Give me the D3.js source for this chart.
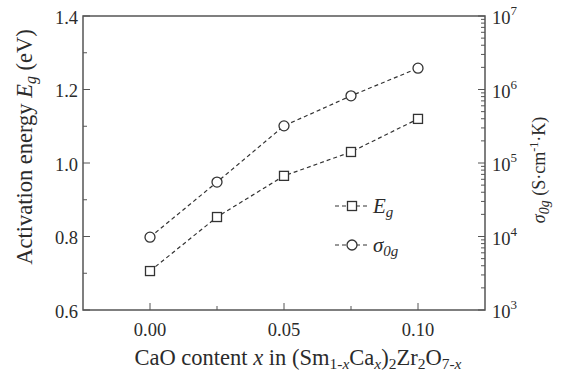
<!DOCTYPE html>
<html>
<head>
<meta charset="utf-8">
<script src="https://cdn.jsdelivr.net/npm/d3@7"></script>
<style>
  html, body { margin: 0; padding: 0; background: #fff; }
  svg { display: block; }
</style>
</head>
<body>
<svg id="chart" width="561" height="373" font-family="'Liberation Serif', 'DejaVu Serif', serif"></svg>
<script>
// CaO content x
const contents = [0.0, 0.025, 0.05, 0.075, 0.10];
// Activation energy E_g (eV), left axis
const activationEnergy = [0.706, 0.853, 0.965, 1.030, 1.120];
// Pre-exponential factor sigma_0g (S·cm^-1·K), right log axis
const sigma0g = [9.8e3, 5.5e4, 3.2e5, 8.2e5, 1.95e6];
const xTicks = [0.0, 0.05, 0.10];
const xMinorTicks = [0.025, 0.075];
const leftTicks = [0.6, 0.8, 1.0, 1.2, 1.4];
const leftMinorTicks = [0.7, 0.9, 1.1, 1.3];
const rightExponents = [3, 4, 5, 6, 7];

const svg = d3.select("#chart");
const m = { left: 83, right: 485, top: 16, bottom: 310 };
const axisColor = "#555";
const markColor = "#333";
const textColor = "#2b2b2b";

const x = d3.scaleLinear().domain([-0.025, 0.125]).range([m.left, m.right]);
const yL = d3.scaleLinear().domain([0.6, 1.4]).range([m.bottom, m.top]);
const yR = d3.scaleLog().domain([1e3, 1e7]).range([m.bottom, m.top]);

// frame
svg.append("rect")
  .attr("x", m.left).attr("y", m.top)
  .attr("width", m.right - m.left).attr("height", m.bottom - m.top)
  .attr("fill", "none").attr("stroke", axisColor).attr("stroke-width", 1.5);

const ticks = svg.append("g").attr("stroke", axisColor).attr("stroke-width", 1);

// x ticks (inward)
xTicks.forEach(v => ticks.append("line")
  .attr("x1", x(v)).attr("x2", x(v)).attr("y1", m.bottom).attr("y2", m.bottom - 7));
xMinorTicks.forEach(v => ticks.append("line")
  .attr("x1", x(v)).attr("x2", x(v)).attr("y1", m.bottom).attr("y2", m.bottom - 4));

// left ticks
leftTicks.forEach(v => ticks.append("line")
  .attr("x1", m.left).attr("x2", m.left + 7).attr("y1", yL(v)).attr("y2", yL(v)));
leftMinorTicks.forEach(v => ticks.append("line")
  .attr("x1", m.left).attr("x2", m.left + 4).attr("y1", yL(v)).attr("y2", yL(v)));

// right log ticks
rightExponents.forEach((e, i) => {
  const base = Math.pow(10, e);
  ticks.append("line")
    .attr("x1", m.right).attr("x2", m.right - 7).attr("y1", yR(base)).attr("y2", yR(base));
  if (i < rightExponents.length - 1) {
    for (let k = 2; k <= 9; k++) {
      const v = base * k;
      ticks.append("line")
        .attr("x1", m.right).attr("x2", m.right - 4).attr("y1", yR(v)).attr("y2", yR(v));
    }
  }
});

const txt = sel => sel.attr("fill", textColor);

// tick labels
svg.append("g").selectAll("text").data(xTicks).join("text").call(txt)
  .attr("x", d => x(d)).attr("y", 336)
  .attr("text-anchor", "middle").attr("font-size", 18.5)
  .text(d => d3.format(".2f")(d));

svg.append("g").selectAll("text").data(leftTicks).join("text").call(txt)
  .attr("x", 78).attr("y", d => yL(d) + 7.5)
  .attr("text-anchor", "end").attr("font-size", 18.5)
  .text(d => d3.format(".1f")(d));

const rl = svg.append("g").selectAll("text").data(rightExponents).join("text").call(txt)
  .attr("x", 492).attr("y", d => yR(Math.pow(10, d)) + 8)
  .attr("font-size", 18.5);
rl.append("tspan").text("10");
rl.append("tspan").attr("dy", -9).attr("font-size", 13).text(d => d);

// axis titles
const sub = 15.5;
const xt = svg.append("text").call(txt)
  .attr("x", 298).attr("y", 365)
  .attr("text-anchor", "middle").attr("font-size", 22.5);
xt.append("tspan").text("CaO content ");
xt.append("tspan").attr("font-style", "italic").text("x");
xt.append("tspan").text(" in (Sm");
xt.append("tspan").attr("dy", 4).attr("font-size", sub).text("1-");
xt.append("tspan").attr("font-size", sub).attr("font-style", "italic").text("x");
xt.append("tspan").attr("dy", -4).text("Ca");
xt.append("tspan").attr("dy", 4).attr("font-size", sub).attr("font-style", "italic").text("x");
xt.append("tspan").attr("dy", -4).text(")");
xt.append("tspan").attr("dy", 4).attr("font-size", sub).text("2");
xt.append("tspan").attr("dy", -4).text("Zr");
xt.append("tspan").attr("dy", 4).attr("font-size", sub).text("2");
xt.append("tspan").attr("dy", -4).text("O");
xt.append("tspan").attr("dy", 4).attr("font-size", sub).text("7-");
xt.append("tspan").attr("font-size", sub).attr("font-style", "italic").text("x");

const lt = svg.append("text").call(txt)
  .attr("transform", "translate(32,147) rotate(-90)")
  .attr("text-anchor", "middle").attr("font-size", 22.5);
lt.append("tspan").text("Activation energy ");
lt.append("tspan").attr("font-style", "italic").text("E");
lt.append("tspan").attr("dy", 4).attr("font-size", 16).attr("font-style", "italic").text("g");
lt.append("tspan").attr("dy", -4).text(" (eV)");

const rt = svg.append("text").call(txt)
  .attr("transform", "translate(545,170) rotate(-90)")
  .attr("text-anchor", "middle").attr("font-size", 18);
rt.append("tspan").attr("font-style", "italic").text("σ");
rt.append("tspan").attr("dy", 4).attr("font-size", 14).attr("font-style", "italic").text("0g");
rt.append("tspan").attr("dy", -4).text(" (S·cm");
rt.append("tspan").attr("dy", -7).attr("font-size", 12).text("-1");
rt.append("tspan").attr("dy", 7).text("·K)");

// series
const eData = contents.map((c, i) => ({ x: c, y: activationEnergy[i] }));
const sData = contents.map((c, i) => ({ x: c, y: sigma0g[i] }));

const lineStyle = sel => sel.attr("fill", "none").attr("stroke", markColor)
  .attr("stroke-width", 1.2).attr("stroke-dasharray", "4,3");

svg.append("path").datum(sData)
  .attr("d", d3.line().x(d => x(d.x)).y(d => yR(d.y))).call(lineStyle);
svg.append("path").datum(eData)
  .attr("d", d3.line().x(d => x(d.x)).y(d => yL(d.y))).call(lineStyle);

svg.append("g").selectAll("circle").data(sData).join("circle")
  .attr("cx", d => x(d.x)).attr("cy", d => yR(d.y)).attr("r", 5)
  .attr("fill", "#fff").attr("stroke", markColor).attr("stroke-width", 1.3);

svg.append("g").selectAll("rect").data(eData).join("rect")
  .attr("x", d => x(d.x) - 4.5).attr("y", d => yL(d.y) - 4.5)
  .attr("width", 9).attr("height", 9)
  .attr("fill", "#fff").attr("stroke", markColor).attr("stroke-width", 1.3);

// legend
const legend = svg.append("g");
[{ y: 206, shape: "rect", label: "E", sub: "g" }, { y: 245, shape: "circle", label: "σ", sub: "0g" }]
  .forEach(item => {
    legend.append("line").attr("x1", 335).attr("x2", 369)
      .attr("y1", item.y).attr("y2", item.y).call(lineStyle);
    if (item.shape === "rect") {
      legend.append("rect").attr("x", 352 - 4.5).attr("y", item.y - 4.5)
        .attr("width", 9).attr("height", 9)
        .attr("fill", "#fff").attr("stroke", markColor).attr("stroke-width", 1.3);
    } else {
      legend.append("circle").attr("cx", 352).attr("cy", item.y).attr("r", 5)
        .attr("fill", "#fff").attr("stroke", markColor).attr("stroke-width", 1.3);
    }
    const t = legend.append("text").call(txt).attr("x", 373).attr("y", item.y + 7)
      .attr("font-size", 21).attr("font-style", "italic");
    t.append("tspan").text(item.label);
    t.append("tspan").attr("dy", 4).attr("font-size", 15).text(item.sub);
  });
</script>
</body>
</html>
